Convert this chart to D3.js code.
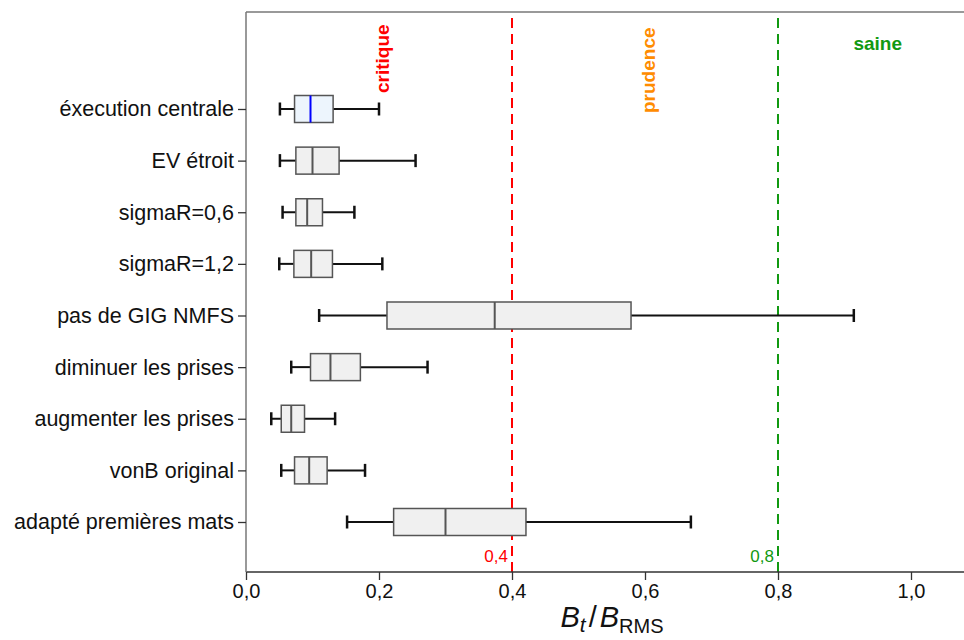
<!DOCTYPE html>
<html><head><meta charset="utf-8">
<script src="https://cdn.jsdelivr.net/npm/d3@7"></script>
<style>body{margin:0;background:#fff}svg{display:block}</style>
</head><body>
<svg id="c" width="964" height="640"></svg>
<script>
const categories = ["éxecution centrale","EV étroit","sigmaR=0,6","sigmaR=1,2","pas de GIG NMFS","diminuer les prises","augmenter les prises","vonB original","adapté premières mats"];
const whiskerLow = [0.051,0.051,0.055,0.050,0.110,0.068,0.038,0.053,0.152];
const q1 =         [0.073,0.075,0.075,0.072,0.212,0.097,0.053,0.073,0.222];
const median =     [0.097,0.100,0.092,0.098,0.374,0.127,0.068,0.095,0.300];
const q3 =         [0.131,0.140,0.115,0.130,0.579,0.172,0.088,0.122,0.421];
const whiskerHigh =[0.200,0.255,0.163,0.205,0.914,0.273,0.134,0.179,0.669];
const xTicks = [0,0.2,0.4,0.6,0.8,1.0];
const refLines = [0.4,0.8];
const refLabels = ["0,4","0,8"];
const refColors = ["#ff0000","#119911"];
const zoneLabels = ["critique","prudence","saine"];
const zonePos = [0.2,0.6,0.95];
const zoneColors = ["#ff0000","#ff8c00","#119911"];

(function(){
const svg = d3.select("#c");
const mLeft = 246, mTop = 12, mBottom = 572, mRight = 964;
const x = d3.scaleLinear().domain([0,1]).range([mLeft, mLeft+665]);
const y = d3.scalePoint().domain(categories).range([109,522]);
const font = "'Liberation Sans', Arial, sans-serif";

// frame
svg.append("line").attr("x1",mLeft).attr("x2",mRight).attr("y1",mTop).attr("y2",mTop).attr("stroke","#777").attr("stroke-width",1.5);

// reference lines
refLines.forEach((v,i)=>{
  svg.append("line").attr("x1",x(v)).attr("x2",x(v)).attr("y1",18).attr("y2",mBottom)
    .attr("stroke",refColors[i]).attr("stroke-width",2).attr("stroke-dasharray","10,6");
  svg.append("text").attr("x",x(v)-4).attr("y",562).attr("text-anchor","end")
    .attr("font-family",font).attr("font-size",17).attr("fill",refColors[i]).text(refLabels[i]);
});

// zone labels
const zfs = 19;
svg.append("text").attr("transform",`translate(${x(zonePos[0])+10},93) rotate(-90)`)
  .attr("font-family",font).attr("font-weight","bold").attr("font-size",zfs).attr("fill",zoneColors[0]).text(zoneLabels[0]);
svg.append("text").attr("transform",`translate(${x(zonePos[1])+10},113) rotate(-90)`)
  .attr("font-family",font).attr("font-weight","bold").attr("font-size",zfs).attr("fill",zoneColors[1]).text(zoneLabels[1]);
svg.append("text").attr("x",x(zonePos[2])).attr("y",50).attr("text-anchor","middle")
  .attr("font-family",font).attr("font-weight","bold").attr("font-size",zfs).attr("fill",zoneColors[2]).text(zoneLabels[2]);

// boxes
const bh = 27, capH = 13;
categories.forEach((c,i)=>{
  const cy = y(c);
  const g = svg.append("g");
  g.append("line").attr("x1",x(whiskerLow[i])).attr("x2",x(q1[i])).attr("y1",cy).attr("y2",cy).attr("stroke","#111").attr("stroke-width",2);
  g.append("line").attr("x1",x(q3[i])).attr("x2",x(whiskerHigh[i])).attr("y1",cy).attr("y2",cy).attr("stroke","#111").attr("stroke-width",2);
  g.append("line").attr("x1",x(whiskerLow[i])).attr("x2",x(whiskerLow[i])).attr("y1",cy-capH/2).attr("y2",cy+capH/2).attr("stroke","#111").attr("stroke-width",2.5);
  g.append("line").attr("x1",x(whiskerHigh[i])).attr("x2",x(whiskerHigh[i])).attr("y1",cy-capH/2).attr("y2",cy+capH/2).attr("stroke","#111").attr("stroke-width",2.5);
  g.append("rect").attr("x",x(q1[i])).attr("y",cy-bh/2).attr("width",x(q3[i])-x(q1[i])).attr("height",bh)
    .attr("fill", i===0 ? "#edf5fd" : "#f0f0f0").attr("stroke","#555").attr("stroke-width",1.5);
  g.append("line").attr("x1",x(median[i])).attr("x2",x(median[i])).attr("y1",cy-bh/2).attr("y2",cy+bh/2)
    .attr("stroke", i===0 ? "#0000ff" : "#555").attr("stroke-width",2);
});

// axes
const xAxis = svg.append("g").attr("transform",`translate(0,${mBottom})`)
  .call(d3.axisBottom(x).tickValues(xTicks).tickSize(8).tickPadding(4).tickFormat(d=>d3.format(".1f")(d).replace(".",",")));
xAxis.select(".domain").attr("d",`M${mLeft},0H${mRight}`).attr("stroke","#333").attr("stroke-width",1.3);
xAxis.selectAll(".tick line").attr("stroke","#333").attr("stroke-width",1.3);
xAxis.selectAll("text").attr("font-family",font).attr("font-size",20).attr("fill","#111");

const yAxis = svg.append("g").attr("transform",`translate(${mLeft},0)`)
  .call(d3.axisLeft(y).tickSize(8).tickPadding(4));
yAxis.select(".domain").attr("d",`M0,${mTop}V${mBottom}`).attr("stroke","#777").attr("stroke-width",1.5);
yAxis.selectAll(".tick line").attr("stroke","#333").attr("stroke-width",1.3);
yAxis.selectAll("text").attr("font-family",font).attr("font-size",21.5).attr("fill","#111");

// axis title
const t = svg.append("text").attr("x",612).attr("y",627).attr("text-anchor","middle")
  .attr("font-family",font).attr("font-size",29).attr("fill","#111");
t.append("tspan").attr("font-style","italic").text("B");
t.append("tspan").attr("font-style","italic").attr("font-size",21).attr("dy",5).text("t");
t.append("tspan").attr("dy",-5).attr("dx",3).text("/");
t.append("tspan").attr("font-style","italic").attr("dx",3).text("B");
t.append("tspan").attr("font-size",20).attr("dy",6).text("RMS");
})();
</script>
</body></html>
